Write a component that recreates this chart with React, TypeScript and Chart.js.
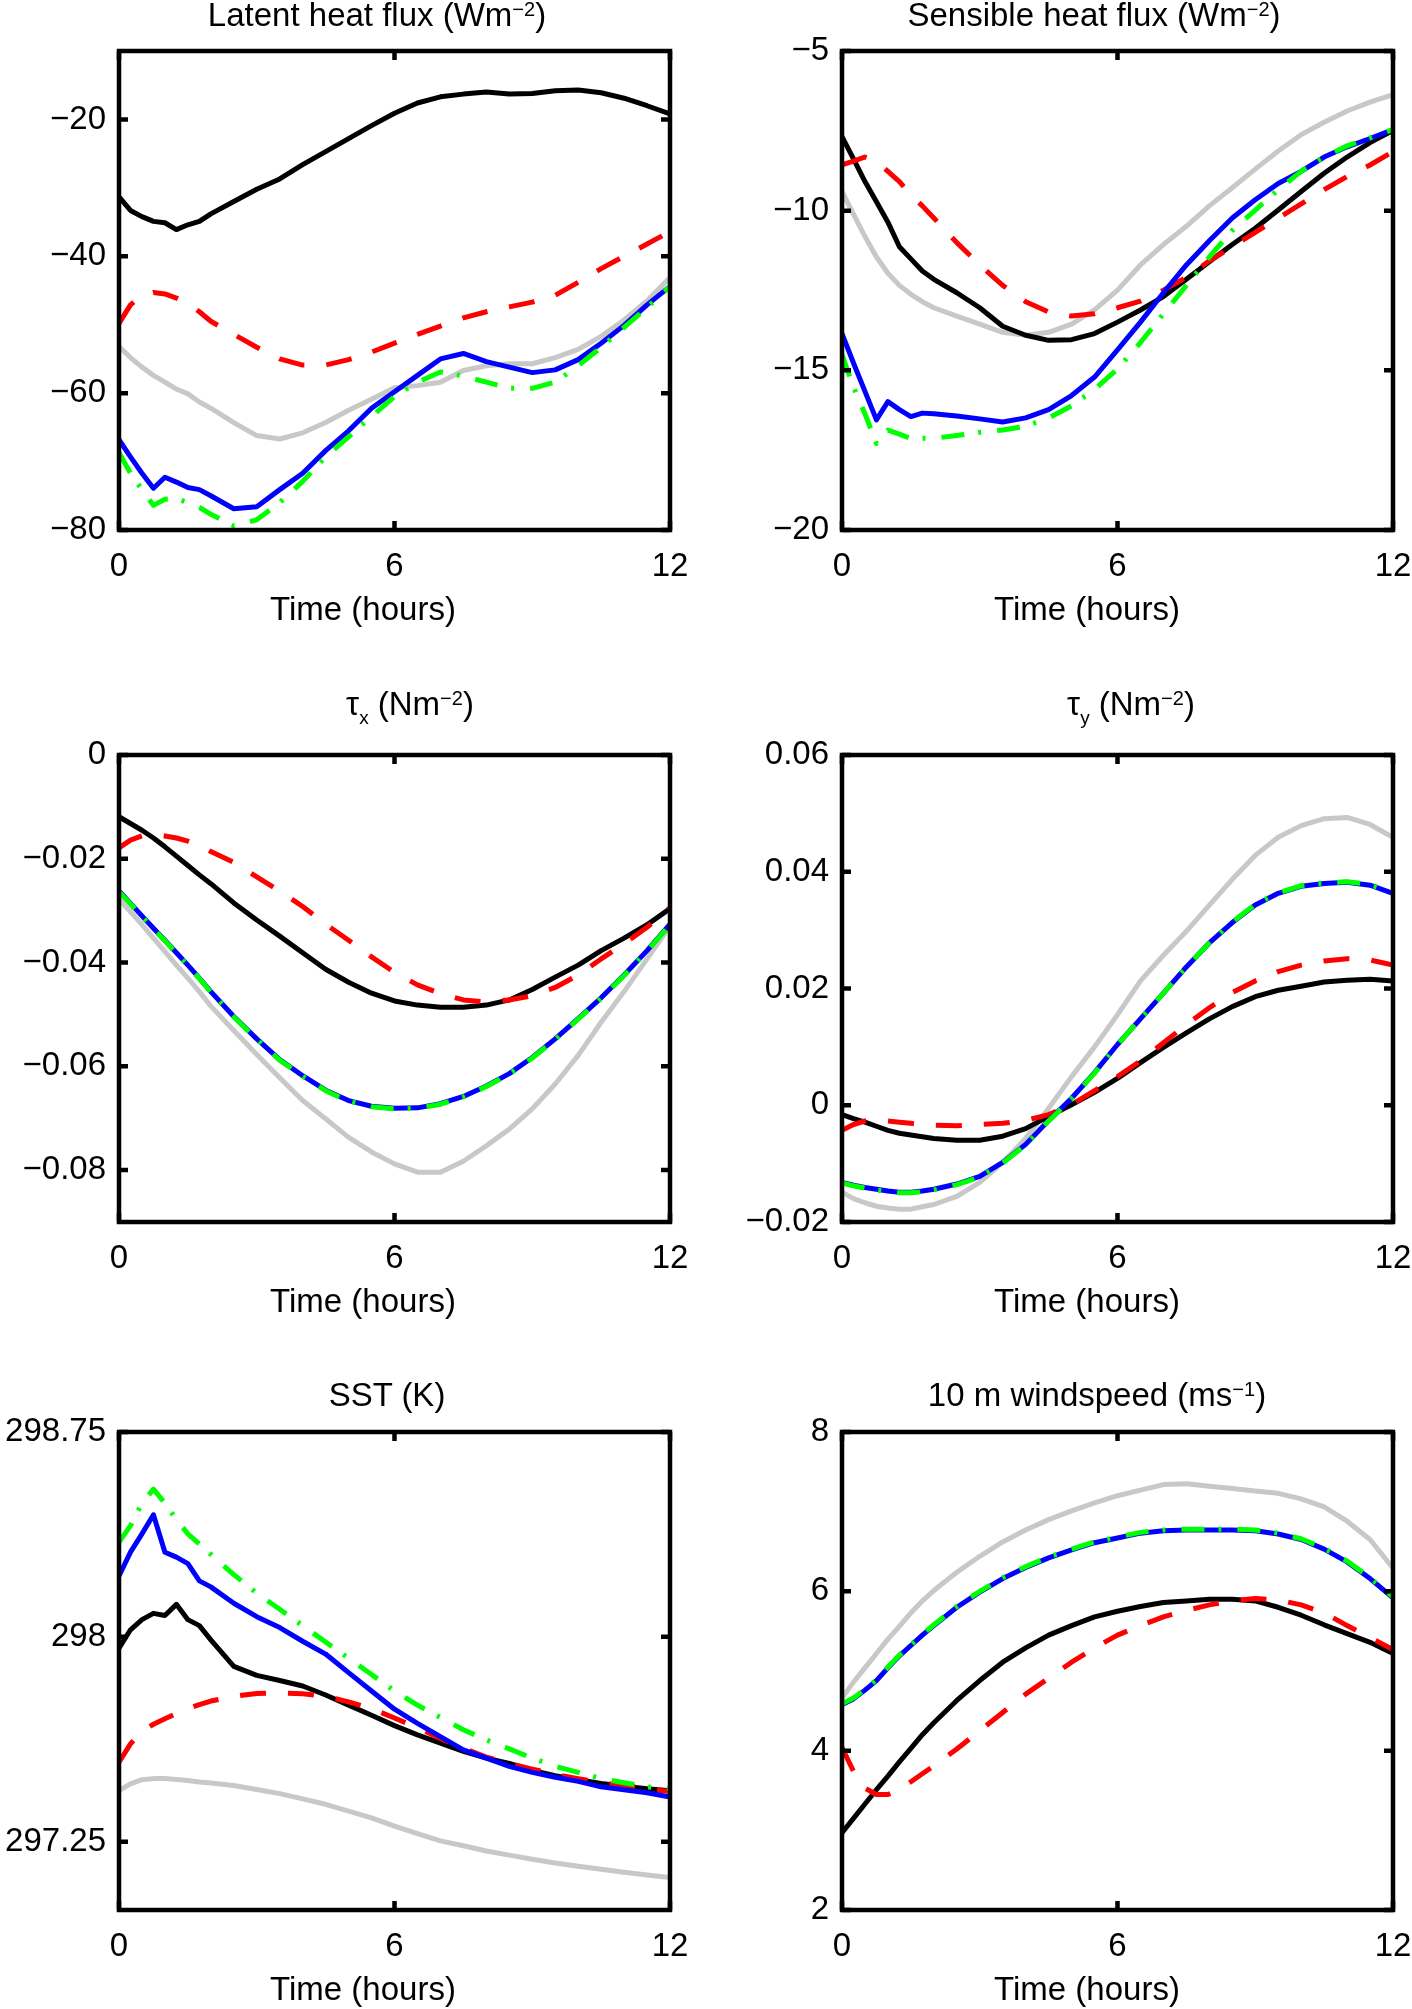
import { Chart, registerables } from "chart.js"
import { useEffect, useRef } from "react"
import type { ReactNode } from "react"

Chart.register(...registerables)

const FONT = "'Liberation Sans', Arial, Helvetica, sans-serif"
Chart.defaults.font.family = FONT
Chart.defaults.color = "#000"

// time axis, hours (denser sampling over the first two hours)
const TIME = [
	0, 0.25, 0.5, 0.75, 1, 1.25, 1.5, 1.75, 2, 2.5, 3, 3.5, 4, 4.5, 5, 5.5, 6,
	6.5, 7, 7.5, 8, 8.5, 9, 9.5, 10, 10.5, 11, 11.5, 12,
]
const X_TICKS = [0, 6, 12]
const X_LABEL = "Time (hours)"

// latent heat flux (W m-2)
const LH_TICKS = [-80, -60, -40, -20]
const LH_BLACK = [-31.3, -33.3, -34.2, -34.9, -35.1, -36.1, -35.4, -34.9, -33.8, -32.0, -30.2, -28.7, -26.6, -24.7, -22.8, -20.9, -19.1, -17.6, -16.7, -16.3, -16.0, -16.3, -16.2, -15.8, -15.7, -16.1, -16.9, -18.0, -19.2]
const LH_RED = [-49.8, -47.1, -45.7, -45.3, -45.5, -46.1, -46.9, -48.1, -49.5, -51.4, -53.3, -55.0, -55.9, -55.9, -55.1, -54.0, -52.7, -51.4, -50.2, -49.0, -48.1, -47.4, -46.7, -45.7, -43.8, -41.8, -40.0, -38.2, -36.4]
const LH_GRAY = [-53.2, -54.8, -56.2, -57.4, -58.4, -59.4, -60.1, -61.3, -62.2, -64.3, -66.2, -66.7, -65.8, -64.3, -62.5, -60.9, -59.2, -58.9, -58.4, -56.7, -56.0, -55.7, -55.7, -54.8, -53.6, -51.7, -49.3, -46.5, -43.1]
const LH_BLUE = [-66.8, -69.3, -71.7, -73.9, -72.3, -73.0, -73.8, -74.1, -75.0, -76.9, -76.6, -74.1, -71.7, -68.4, -65.5, -62.2, -59.8, -57.4, -55.0, -54.2, -55.4, -56.2, -57.0, -56.6, -55.1, -52.7, -50.1, -47.1, -44.4]
const LH_GREEN = [-68.7, -71.7, -74.1, -76.4, -75.5, -75.4, -76.0, -76.7, -77.7, -79.4, -78.5, -76.0, -72.9, -69.3, -66.4, -63.4, -60.5, -58.4, -56.9, -57.5, -58.4, -59.3, -59.3, -58.4, -56.0, -53.3, -50.4, -47.5, -44.4]

// sensible heat flux (W m-2)
const SH_TICKS = [-20, -15, -10, -5]
const SH_BLACK = [-7.68, -8.38, -9.09, -9.72, -10.36, -11.13, -11.51, -11.89, -12.15, -12.57, -13.04, -13.62, -13.9, -14.06, -14.04, -13.85, -13.49, -13.11, -12.69, -12.15, -11.6, -11.06, -10.55, -9.98, -9.4, -8.83, -8.32, -7.87, -7.49]
const SH_RED = [-8.57, -8.45, -8.32, -8.45, -8.77, -9.09, -9.51, -9.85, -10.23, -11.0, -11.7, -12.34, -12.85, -13.17, -13.3, -13.23, -13.04, -12.83, -12.49, -12.09, -11.57, -11.13, -10.68, -10.23, -9.79, -9.34, -8.93, -8.57, -8.15]
const SH_GRAY = [-9.4, -10.11, -10.81, -11.45, -11.96, -12.34, -12.62, -12.85, -13.04, -13.3, -13.55, -13.81, -13.9, -13.81, -13.55, -13.11, -12.49, -11.7, -11.06, -10.49, -9.85, -9.28, -8.7, -8.13, -7.62, -7.23, -6.88, -6.6, -6.37]
const SH_BLUE = [-13.85, -14.77, -15.66, -16.55, -15.98, -16.23, -16.45, -16.34, -16.36, -16.43, -16.52, -16.62, -16.49, -16.23, -15.79, -15.21, -14.36, -13.49, -12.57, -11.7, -10.94, -10.23, -9.66, -9.15, -8.77, -8.32, -8.0, -7.74, -7.46]
const SH_GREEN = [-14.51, -15.53, -16.36, -17.29, -16.87, -17.0, -17.13, -17.13, -17.13, -17.04, -16.94, -16.87, -16.75, -16.49, -16.11, -15.6, -14.96, -14.13, -13.23, -12.34, -11.45, -10.62, -9.98, -9.34, -8.77, -8.32, -7.97, -7.72, -7.46]

// zonal wind stress (N m-2)
const TX_TICKS = [-0.08, -0.06, -0.04, -0.02, 0]
const TX_BLACK = [-0.0119, -0.0132, -0.0145, -0.016, -0.0177, -0.0195, -0.0213, -0.0231, -0.0248, -0.0285, -0.0318, -0.0349, -0.0381, -0.0413, -0.0438, -0.0459, -0.0474, -0.0482, -0.0486, -0.0486, -0.0482, -0.0472, -0.0452, -0.0428, -0.0405, -0.0377, -0.0353, -0.0327, -0.0296]
const TX_RED = [-0.0179, -0.0164, -0.0156, -0.0153, -0.0156, -0.016, -0.0166, -0.0175, -0.0186, -0.0207, -0.0235, -0.0262, -0.0292, -0.0326, -0.0357, -0.0389, -0.0419, -0.0443, -0.046, -0.0472, -0.0476, -0.0472, -0.0464, -0.0448, -0.0424, -0.0393, -0.0364, -0.0332, -0.0294]
const TX_GRAY = [-0.0278, -0.0302, -0.0327, -0.0353, -0.0379, -0.0405, -0.043, -0.0456, -0.0484, -0.0531, -0.0577, -0.0622, -0.0666, -0.0701, -0.0737, -0.0765, -0.0788, -0.0804, -0.0804, -0.0783, -0.0753, -0.0721, -0.0682, -0.0634, -0.0579, -0.0515, -0.0456, -0.0393, -0.033]
const TX_BLUE = [-0.0262, -0.0286, -0.031, -0.0334, -0.0357, -0.0381, -0.0405, -0.043, -0.0456, -0.0504, -0.0547, -0.0587, -0.0618, -0.0646, -0.0666, -0.0677, -0.0681, -0.068, -0.0672, -0.0658, -0.0638, -0.0614, -0.0583, -0.0547, -0.0508, -0.0468, -0.0424, -0.0377, -0.0326]
const TX_GREEN = [-0.0264, -0.0287, -0.0311, -0.0335, -0.0358, -0.0382, -0.0406, -0.0431, -0.0457, -0.0505, -0.0548, -0.0588, -0.0619, -0.0647, -0.0667, -0.0678, -0.0682, -0.0681, -0.0673, -0.0659, -0.0639, -0.0615, -0.0584, -0.0548, -0.0509, -0.0469, -0.0425, -0.0378, -0.0327]

// meridional wind stress (N m-2)
const TY_TICKS = [-0.02, 0, 0.02, 0.04, 0.06]
const TY_BLACK = [-0.0016, -0.0023, -0.0029, -0.0036, -0.0043, -0.0048, -0.0051, -0.0054, -0.0057, -0.006, -0.006, -0.0053, -0.004, -0.0019, 0.0001, 0.0022, 0.0046, 0.0073, 0.0099, 0.0124, 0.0148, 0.0169, 0.0186, 0.0197, 0.0204, 0.0211, 0.0214, 0.0216, 0.0213]
const TY_RED = [-0.0043, -0.0033, -0.0027, -0.0026, -0.0027, -0.0029, -0.0031, -0.0033, -0.0034, -0.0035, -0.0033, -0.0031, -0.0026, -0.0016, 0.0001, 0.0025, 0.0049, 0.0076, 0.0107, 0.0138, 0.0167, 0.0193, 0.0213, 0.0229, 0.024, 0.0247, 0.0251, 0.0249, 0.024]
const TY_GRAY = [-0.0149, -0.016, -0.0167, -0.0173, -0.0176, -0.0178, -0.0178, -0.0174, -0.017, -0.0156, -0.0132, -0.0098, -0.0057, -0.0005, 0.0049, 0.01, 0.0155, 0.0213, 0.0257, 0.0298, 0.0343, 0.0387, 0.0428, 0.0459, 0.0479, 0.0491, 0.0493, 0.0481, 0.0459]
const TY_BLUE = [-0.0132, -0.0137, -0.0141, -0.0144, -0.0147, -0.0149, -0.0149, -0.0147, -0.0144, -0.0135, -0.0122, -0.0098, -0.0067, -0.0026, 0.0012, 0.0056, 0.0104, 0.0148, 0.0192, 0.0237, 0.0278, 0.0313, 0.0343, 0.0363, 0.0375, 0.038, 0.0382, 0.0377, 0.0363]
const TY_GREEN = [-0.0133, -0.0138, -0.0142, -0.0145, -0.0148, -0.015, -0.015, -0.0148, -0.0145, -0.0136, -0.0123, -0.0099, -0.0068, -0.0027, 0.0011, 0.0055, 0.0104, 0.0148, 0.0192, 0.0237, 0.0278, 0.0314, 0.0344, 0.0364, 0.0376, 0.0381, 0.0383, 0.0378, 0.0364]

// sea surface temperature (K)
const SST_TICKS = [297.25, 298, 298.75]
const SST_BLACK = [297.959, 298.026, 298.063, 298.086, 298.078, 298.119, 298.063, 298.041, 297.989, 297.892, 297.859, 297.84, 297.82, 297.787, 297.75, 297.713, 297.675, 297.641, 297.611, 297.581, 297.556, 297.537, 297.511, 297.492, 297.477, 297.463, 297.453, 297.444, 297.437]
const SST_RED = [297.541, 297.608, 297.655, 297.68, 297.7, 297.72, 297.738, 297.752, 297.765, 297.782, 297.793, 297.795, 297.792, 297.782, 297.762, 297.737, 297.703, 297.667, 297.628, 297.592, 297.56, 297.537, 297.516, 297.496, 297.481, 297.466, 297.456, 297.444, 297.434]
const SST_GRAY = [297.437, 297.462, 297.477, 297.481, 297.481, 297.478, 297.474, 297.469, 297.465, 297.456, 297.441, 297.426, 297.407, 297.387, 297.362, 297.337, 297.307, 297.28, 297.253, 297.235, 297.216, 297.201, 297.186, 297.172, 297.16, 297.149, 297.138, 297.128, 297.119]
const SST_BLUE = [298.223, 298.31, 298.377, 298.447, 298.31, 298.292, 298.268, 298.205, 298.183, 298.123, 298.074, 298.034, 297.984, 297.937, 297.869, 297.802, 297.735, 297.683, 297.635, 297.586, 297.556, 297.526, 297.504, 297.486, 297.471, 297.451, 297.44, 297.429, 297.414]
const SST_GREEN = [298.347, 298.407, 298.489, 298.541, 298.489, 298.429, 298.377, 298.34, 298.302, 298.228, 298.16, 298.101, 298.041, 297.981, 297.922, 297.862, 297.802, 297.75, 297.705, 297.66, 297.623, 297.59, 297.556, 297.526, 297.504, 297.481, 297.466, 297.451, 297.444]

// 10 m windspeed (m s-1)
const WS_TICKS = [2, 4, 6, 8]
const WS_BLACK = [2.97, 3.15, 3.33, 3.51, 3.68, 3.86, 4.03, 4.2, 4.35, 4.63, 4.88, 5.11, 5.29, 5.45, 5.57, 5.68, 5.75, 5.81, 5.86, 5.88, 5.9, 5.9, 5.88, 5.8, 5.7, 5.58, 5.47, 5.36, 5.22]
const WS_RED = [4.04, 3.74, 3.53, 3.45, 3.45, 3.51, 3.61, 3.71, 3.81, 4.02, 4.25, 4.48, 4.71, 4.91, 5.11, 5.29, 5.45, 5.57, 5.68, 5.76, 5.83, 5.88, 5.91, 5.89, 5.83, 5.73, 5.57, 5.42, 5.27]
const WS_GRAY = [4.66, 4.86, 5.04, 5.22, 5.4, 5.56, 5.73, 5.88, 6.01, 6.24, 6.44, 6.62, 6.77, 6.9, 7.01, 7.11, 7.2, 7.27, 7.34, 7.35, 7.32, 7.29, 7.26, 7.23, 7.16, 7.06, 6.88, 6.65, 6.29]
const WS_BLUE = [4.58, 4.65, 4.76, 4.88, 5.04, 5.19, 5.32, 5.45, 5.57, 5.8, 5.99, 6.16, 6.3, 6.42, 6.52, 6.61, 6.67, 6.73, 6.76, 6.77, 6.77, 6.77, 6.76, 6.72, 6.65, 6.53, 6.37, 6.16, 5.92]
const WS_GREEN = [4.59, 4.66, 4.77, 4.89, 5.05, 5.2, 5.33, 5.46, 5.58, 5.81, 6.0, 6.17, 6.31, 6.43, 6.53, 6.62, 6.68, 6.74, 6.77, 6.78, 6.78, 6.78, 6.77, 6.73, 6.66, 6.54, 6.38, 6.17, 5.93]

// plot boxes in page pixels
const COL_LEFT = [119, 842]
const COL_RIGHT = [670, 1393]
const ROW_TOP = [51, 755, 1432]
const ROW_BOTTOM = [530, 1222, 1910]
const XLABEL_X = [363, 1087]
const CANVAS_W = 706
const PAD_TOP = 40
const X_AXIS_H = 98

const fmt = (v: number) => String(Math.round(v * 10000) / 10000).replace("-", "\u2212")

const framePlugin = {
	id: "frame",
	afterDraw(chart: any) {
		const { ctx, chartArea: a, scales } = chart
		ctx.save()
		ctx.strokeStyle = "#000"
		ctx.lineWidth = 4.5
		ctx.beginPath()
		for (const t of scales.x.ticks) {
			const px = scales.x.getPixelForValue(t.value)
			ctx.moveTo(px, a.bottom)
			ctx.lineTo(px, a.bottom - 9)
			ctx.moveTo(px, a.top)
			ctx.lineTo(px, a.top + 9)
		}
		for (const t of scales.y.ticks) {
			const py = scales.y.getPixelForValue(t.value)
			ctx.moveTo(a.left, py)
			ctx.lineTo(a.left + 9, py)
			ctx.moveTo(a.right, py)
			ctx.lineTo(a.right - 9, py)
		}
		ctx.stroke()
		ctx.strokeRect(a.left, a.top, a.right - a.left, a.bottom - a.top)
		ctx.restore()
	},
}

const Sup = ({ children }: { children: ReactNode }) => (
	<span style={{ fontSize: 20, verticalAlign: 10, lineHeight: 0 }}>{children}</span>
)
const Sub = ({ children }: { children: ReactNode }) => (
	<span style={{ fontSize: 19, verticalAlign: -9, lineHeight: 0 }}>{children}</span>
)

interface PanelDef {
	col: number
	row: number
	title: ReactNode
	titleX: number
	titleY: number
	min: number
	max: number
	ticks: number[]
	black: number[]
	red: number[]
	gray: number[]
	blue: number[]
	green: number[]
}

const PANELS: PanelDef[] = [
	{ col: 0, row: 0, title: <>Latent heat flux (Wm<Sup>−2</Sup>)</>, titleX: 377, titleY: -2, min: -80, max: -10, ticks: LH_TICKS, black: LH_BLACK, red: LH_RED, gray: LH_GRAY, blue: LH_BLUE, green: LH_GREEN },
	{ col: 1, row: 0, title: <>Sensible heat flux (Wm<Sup>−2</Sup>)</>, titleX: 1094, titleY: -2, min: -20, max: -5, ticks: SH_TICKS, black: SH_BLACK, red: SH_RED, gray: SH_GRAY, blue: SH_BLUE, green: SH_GREEN },
	{ col: 0, row: 1, title: <>τ<Sub>x</Sub> (Nm<Sup>−2</Sup>)</>, titleX: 410, titleY: 687, min: -0.09, max: 0, ticks: TX_TICKS, black: TX_BLACK, red: TX_RED, gray: TX_GRAY, blue: TX_BLUE, green: TX_GREEN },
	{ col: 1, row: 1, title: <>τ<Sub>y</Sub> (Nm<Sup>−2</Sup>)</>, titleX: 1131, titleY: 687, min: -0.02, max: 0.06, ticks: TY_TICKS, black: TY_BLACK, red: TY_RED, gray: TY_GRAY, blue: TY_BLUE, green: TY_GREEN },
	{ col: 0, row: 2, title: <>SST (K)</>, titleX: 387, titleY: 1378, min: 297, max: 298.75, ticks: SST_TICKS, black: SST_BLACK, red: SST_RED, gray: SST_GRAY, blue: SST_BLUE, green: SST_GREEN },
	{ col: 1, row: 2, title: <>10 m windspeed (ms<Sup>−1</Sup>)</>, titleX: 1097, titleY: 1378, min: 2, max: 8, ticks: WS_TICKS, black: WS_BLACK, red: WS_RED, gray: WS_GRAY, blue: WS_BLUE, green: WS_GREEN },
]

const series = (vals: number[]) => TIME.map((t, i) => ({ x: t, y: vals[i] }))

const textStyle = {
	position: "absolute" as const,
	transform: "translateX(-50%)",
	whiteSpace: "nowrap" as const,
	fontFamily: FONT,
	fontSize: 33,
	lineHeight: "33px",
	color: "#000",
}

function Panel({ def }: { def: PanelDef }) {
	const canvasRef = useRef<HTMLCanvasElement>(null)
	const left = def.col * CANVAS_W
	const axisW = COL_LEFT[def.col] - left
	const padRight = left + CANVAS_W - COL_RIGHT[def.col]
	const top = ROW_TOP[def.row] - PAD_TOP
	const height = PAD_TOP + ROW_BOTTOM[def.row] - ROW_TOP[def.row] + X_AXIS_H

	useEffect(() => {
		if (!canvasRef.current) return
		const line = (vals: number[], color: string, dash: number[]) => ({
			data: series(vals),
			borderColor: color,
			borderWidth: 5,
			borderDash: dash,
			borderCapStyle: "butt" as const,
			borderJoinStyle: "round" as const,
			pointRadius: 0,
			tension: 0,
			fill: false,
		})
		// first dataset is drawn on top
		const chart = new Chart(canvasRef.current, {
			type: "line",
			data: {
				datasets: [
					line(def.green, "#00ff00", [23, 14, 3, 16]),
					line(def.blue, "#0000ff", []),
					line(def.red, "#ff0000", [26, 22]),
					line(def.black, "#000000", []),
					line(def.gray, "#c8c8c8", []),
				],
			},
			options: {
				animation: false,
				responsive: false,
				devicePixelRatio: 1,
				events: [],
				layout: { padding: { top: PAD_TOP, right: padRight, left: 0, bottom: 0 } },
				plugins: { legend: { display: false }, tooltip: { enabled: false } },
				scales: {
					x: {
						type: "linear",
						min: 0,
						max: 12,
						afterBuildTicks: (s: any) => {
							s.ticks = X_TICKS.map((v) => ({ value: v }))
						},
						afterFit: (s: any) => {
							s.height = X_AXIS_H
							s.paddingLeft = 0
							s.paddingRight = 0
						},
						ticks: { font: { size: 33 }, color: "#000", padding: 17, maxRotation: 0, autoSkip: false, callback: (v: any) => String(v) },
						grid: { display: false, drawTicks: false },
						border: { display: false },
					},
					y: {
						type: "linear",
						min: def.min,
						max: def.max,
						afterBuildTicks: (s: any) => {
							s.ticks = def.ticks.map((v) => ({ value: v }))
						},
						afterFit: (s: any) => {
							s.width = axisW
							s.paddingTop = 0
							s.paddingBottom = 0
						},
						ticks: { font: { size: 33 }, color: "#000", padding: 13, autoSkip: false, callback: (v: any) => fmt(Number(v)) },
						grid: { display: false, drawTicks: false },
						border: { display: false },
					},
				},
			},
			plugins: [framePlugin],
		})
		return () => {
			chart.destroy()
		}
	}, [def])

	return (
		<>
			<canvas
				ref={canvasRef}
				width={CANVAS_W}
				height={height}
				style={{ position: "absolute", left, top, width: CANVAS_W, height }}
			/>
			<div style={{ ...textStyle, left: def.titleX, top: def.titleY }}>{def.title}</div>
			<div style={{ ...textStyle, left: XLABEL_X[def.col], top: ROW_BOTTOM[def.row] + 62 }}>{X_LABEL}</div>
		</>
	)
}

export default function App() {
	return (
		<div style={{ position: "absolute", left: 0, top: 0, width: 1412, height: 2009, background: "#fff", overflow: "hidden" }}>
			{PANELS.map((p, i) => (
				<Panel key={i} def={p} />
			))}
		</div>
	)
}
